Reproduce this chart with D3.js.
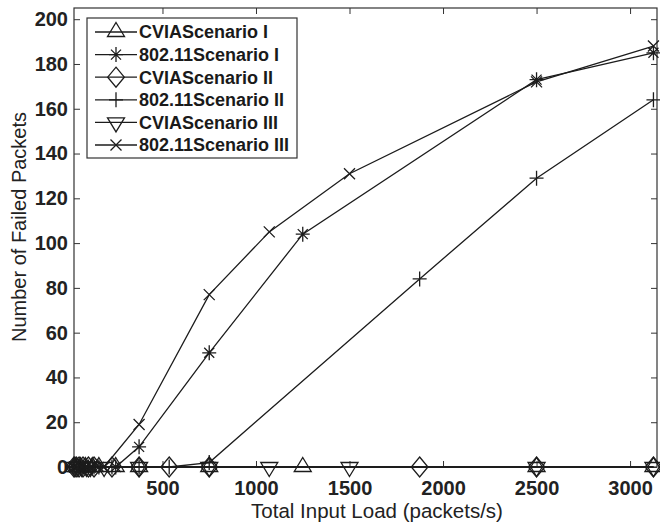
<!DOCTYPE html>
<html>
<head>
<meta charset="utf-8">
<script src="https://cdn.jsdelivr.net/npm/d3@7"></script>
<style>
  html, body { margin: 0; padding: 0; background: #fff; }
  svg { display: block; font-family: "Liberation Sans", Arial, Helvetica, sans-serif; }
</style>
</head>
<body>
<svg id="chart" width="660" height="527"></svg>
<script>
// Offered load (packets/s) for each scenario
const loadI   = [28, 42, 62, 88, 125, 160, 250, 375, 750, 1250, 2500, 3125];
const loadII  = [27, 38, 54, 75, 104, 134, 230, 375, 536, 750, 1875, 2500, 3125];
const loadIII = [30, 47, 68, 94, 115, 188, 375, 750, 1071, 1500, 2500, 3125];

// Failed packets per scheme and scenario
const cviaI     = [0, 0, 0, 0, 0, 0, 0, 0, 0, 0, 0, 0];
const wifiI     = [0, 0, 0, 0, 0, 0, 0, 9, 51, 104, 173, 185];
const cviaII    = [0, 0, 0, 0, 0, 0, 0, 0, 0, 0, 0, 0, 0];
const wifiII    = [0, 0, 0, 0, 0, 0, 0, 0, 0, 2, 84, 129, 164];
const cviaIII   = [0, 0, 0, 0, 0, 0, 0, 0, 0, 0, 0, 0];
const wifiIII   = [0, 0, 0, 0, 0, 0, 19, 77, 105, 131, 172, 188];

const seriesNames = ["CVIAScenario I", "802.11Scenario I", "CVIAScenario II",
                     "802.11Scenario II", "CVIAScenario III", "802.11Scenario III"];
const seriesMarkers = ["triUp", "asterisk", "diamond", "plus", "triDown", "cross"];

const xTicks = [500, 1000, 1500, 2000, 2500, 3000];
const yTicks = [0, 20, 40, 60, 80, 100, 120, 140, 160, 180, 200];

const xLabel = "Total Input Load (packets/s)";
const yLabel = "Number of Failed Packets";

const series = [
  { name: seriesNames[0], marker: seriesMarkers[0], x: loadI,   y: cviaI },
  { name: seriesNames[1], marker: seriesMarkers[1], x: loadI,   y: wifiI },
  { name: seriesNames[2], marker: seriesMarkers[2], x: loadII,  y: cviaII },
  { name: seriesNames[3], marker: seriesMarkers[3], x: loadII,  y: wifiII },
  { name: seriesNames[4], marker: seriesMarkers[4], x: loadIII, y: cviaIII },
  { name: seriesNames[5], marker: seriesMarkers[5], x: loadIII, y: wifiIII }
];

const ink = "#1c1c1c";
const box = { left: 74, right: 657, top: 8, bottom: 467 };

const svg = d3.select("#chart");

const x = d3.scaleLinear().domain([27, 3144]).range([box.left, box.right]);
const y = d3.scaleLinear().domain([0, 205]).range([box.bottom, box.top]);

// Marker path generators, centred on (0,0)
function markerPath(type) {
  switch (type) {
    case "triUp":   return "M0,-9.5L8.5,4.5L-8.5,4.5Z";
    case "triDown": return "M0,9.5L8.5,-4.5L-8.5,-4.5Z";
    case "diamond": return "M0,-10L8.3,0L0,10L-8.3,0Z";
    case "plus":    return "M-7,0H7M0,-7.5V7.5";
    case "cross":   return "M-5.5,-5.5L5.5,5.5M-5.5,5.5L5.5,-5.5";
    case "asterisk":return "M-7,0H7M0,-7.5V7.5M-5,-5L5,5M-5,5L5,-5";
  }
}

// Axes: inward ticks on all four sides
const tickLen = 6;
const fontTicks = "bold 20px 'Liberation Sans', Arial, sans-serif";
const fmt = d3.format("d");

const gx = svg.append("g")
  .attr("transform", `translate(0,${box.bottom})`)
  .call(d3.axisBottom(x).tickValues(xTicks).tickFormat(fmt)
    .tickSizeInner(-tickLen).tickSizeOuter(0).tickPadding(14));
const gxt = svg.append("g")
  .attr("transform", `translate(0,${box.top})`)
  .call(d3.axisTop(x).tickValues(xTicks).tickSizeInner(-tickLen).tickSizeOuter(0).tickFormat(""));
const gy = svg.append("g")
  .attr("transform", `translate(${box.left},0)`)
  .call(d3.axisLeft(y).tickValues(yTicks).tickFormat(fmt)
    .tickSizeInner(-tickLen).tickSizeOuter(0).tickPadding(6));
const gyr = svg.append("g")
  .attr("transform", `translate(${box.right},0)`)
  .call(d3.axisRight(y).tickValues(yTicks).tickSizeInner(-tickLen).tickSizeOuter(0).tickFormat(""));

[gx, gxt, gy, gyr].forEach(g => {
  g.select(".domain").remove();
  g.selectAll(".tick line").attr("stroke", "#333").attr("stroke-width", 1);
  g.selectAll(".tick text")
    .attr("fill", "#222")
    .style("font", fontTicks);
});

// Axes box
svg.append("rect")
  .attr("x", box.left).attr("y", box.top)
  .attr("width", box.right - box.left).attr("height", box.bottom - box.top)
  .attr("fill", "none").attr("stroke", "#333").attr("stroke-width", 1.2);

// Axis titles
svg.append("text")
  .attr("x", 377).attr("y", 518)
  .attr("text-anchor", "middle")
  .attr("fill", "#222")
  .style("font-size", "20.5px")
  .text(xLabel);

svg.append("text")
  .attr("transform", "translate(26,227) rotate(-90)")
  .attr("text-anchor", "middle")
  .attr("fill", "#222")
  .style("font-size", "20px")
  .text(yLabel);

// Series lines and markers
const line = d3.line().x(d => x(d[0])).y(d => y(d[1]));

series.forEach(s => {
  const pts = s.x.map((v, i) => [v, s.y[i]]);
  const g = svg.append("g");
  g.append("path")
    .attr("d", line(pts))
    .attr("fill", "none")
    .attr("stroke", ink)
    .attr("stroke-width", 1.3);
  g.selectAll("path.mk")
    .data(pts)
    .join("path")
    .attr("class", "mk")
    .attr("transform", d => `translate(${x(d[0])},${y(d[1])})`)
    .attr("d", markerPath(s.marker))
    .attr("fill", "none")
    .attr("stroke", ink)
    .attr("stroke-width", 1.3);
});

// Legend
const leg = { x: 87, y: 18, w: 210, h: 140, row0: 32, step: 22.6 };
const lg = svg.append("g");
lg.append("rect")
  .attr("x", leg.x).attr("y", leg.y).attr("width", leg.w).attr("height", leg.h)
  .attr("fill", "#fff").attr("stroke", "#333").attr("stroke-width", 1.2);

series.forEach((s, i) => {
  const cy = leg.row0 + i * leg.step;
  lg.append("line")
    .attr("x1", 95).attr("x2", 137).attr("y1", cy).attr("y2", cy)
    .attr("stroke", ink).attr("stroke-width", 1.3);
  lg.append("path")
    .attr("transform", `translate(116,${cy})`)
    .attr("d", markerPath(s.marker))
    .attr("fill", "none").attr("stroke", ink).attr("stroke-width", 1.3);
  lg.append("text")
    .attr("x", 139).attr("y", cy)
    .attr("dy", "0.36em")
    .attr("fill", "#1a1a1a")
    .style("font", "bold 18px 'Liberation Sans', Arial, sans-serif")
    .text(s.name);
});
</script>
</body>
</html>
